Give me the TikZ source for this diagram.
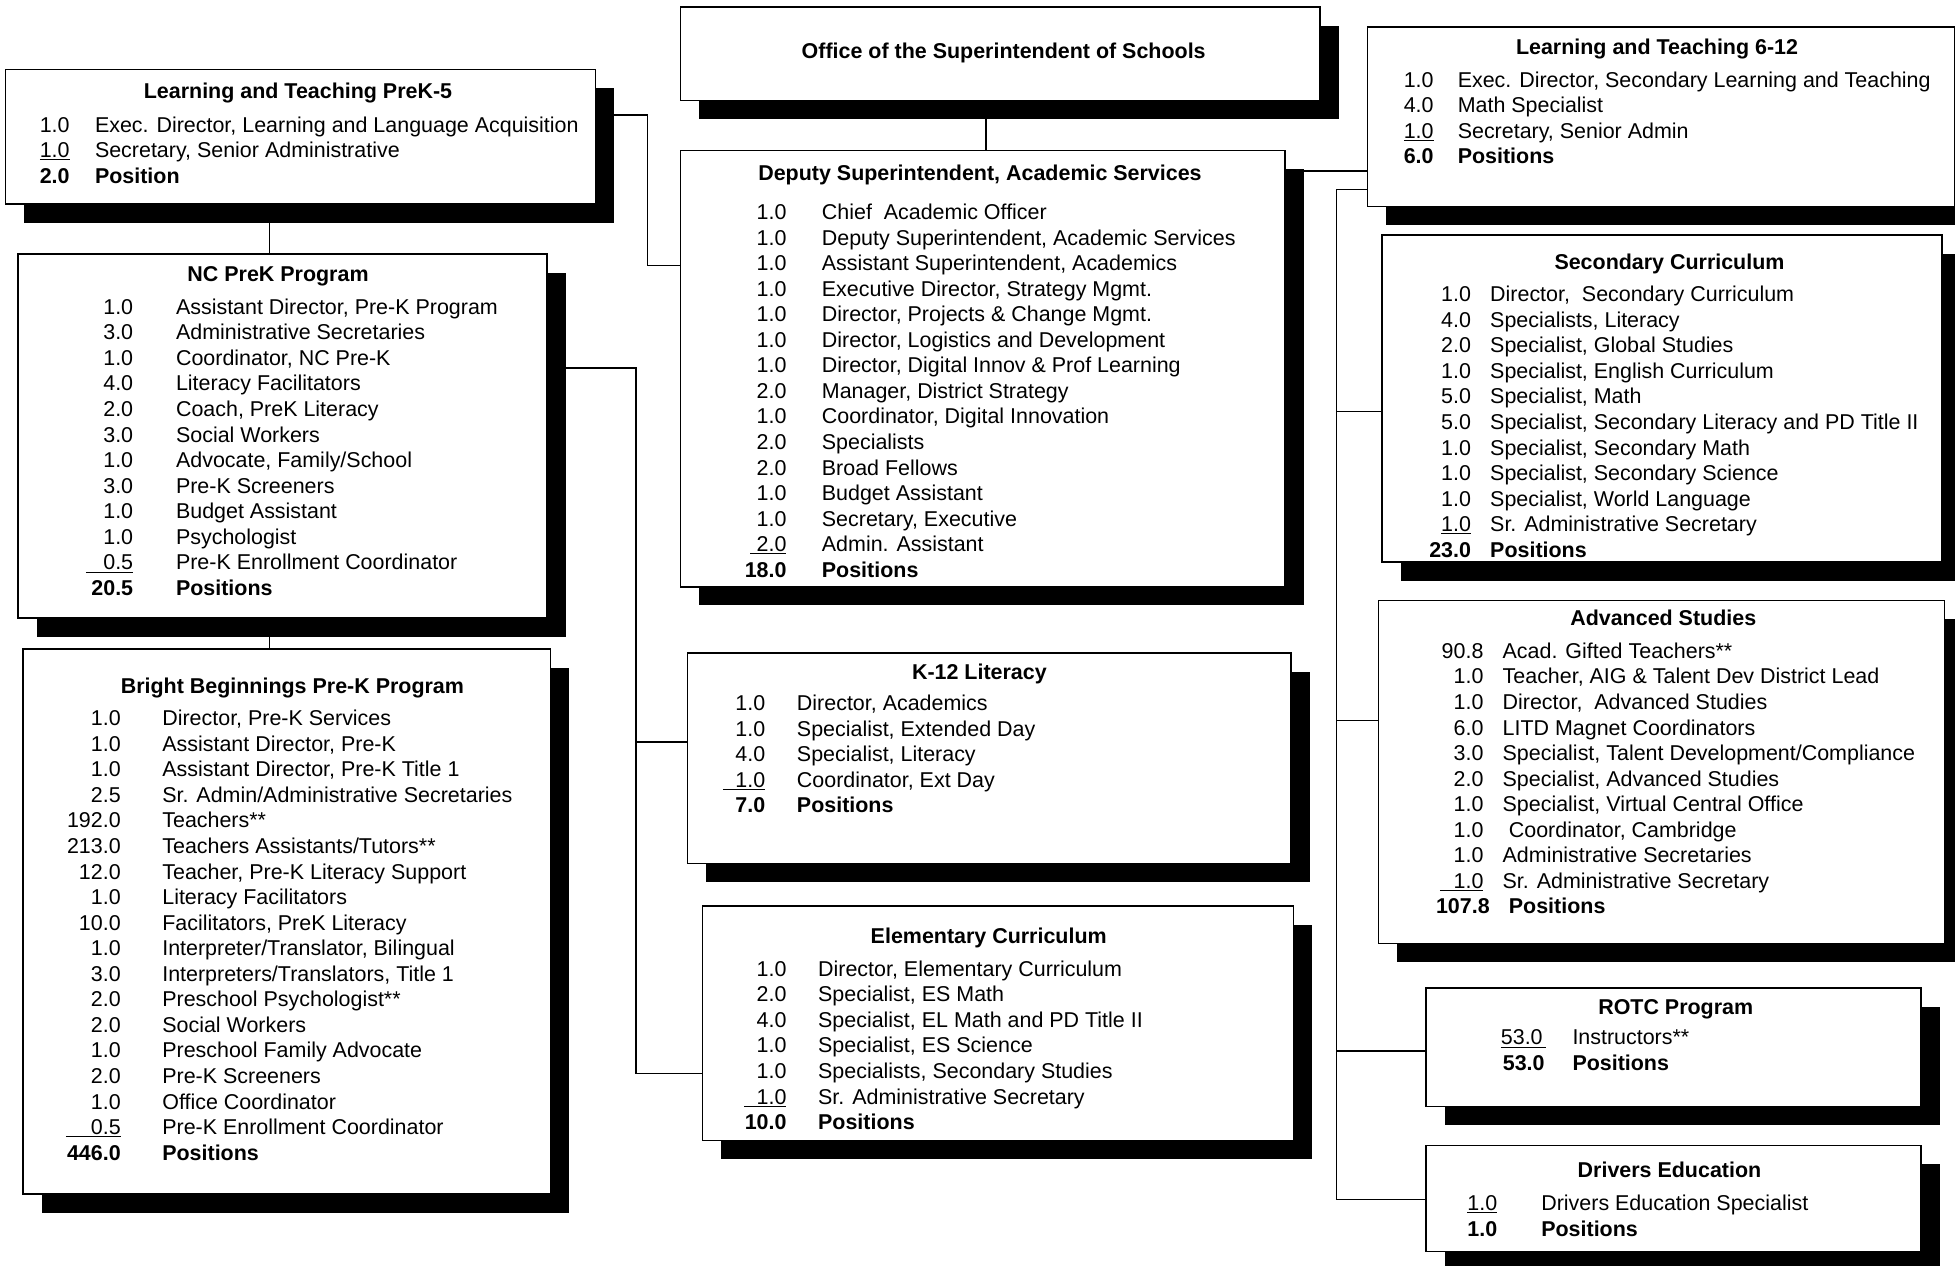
\documentclass[tikz,border=0pt]{standalone}
\usepackage{fontspec}
\setmainfont{Liberation Sans}
\usetikzlibrary{shadows}
\pgfdeclarelayer{bg}
\pgfsetlayers{bg,main}
\newcommand{\ulnum}[2]{\underline{\makebox[#1pt][r]{#2}}}
\newcommand{\ulnuml}[2]{\underline{\makebox[#1pt][l]{#2}}}
% name, number right edge, text x, first line y, list
\newcommand{\orgitems}[5]{%
  \foreach \nm/\tx [count=\i, evaluate=\i as \yy using #4+6+(\i-1)*20.5] in {#5} {
    \node[itemnum] (#1n\i) at (#2,\yy) {\nm};
    \node[itemtxt] (#1t\i) at (#3,\yy) {\tx};
  }%
}
\tikzset{
  orgbox/.style={draw=black, line width=1.2pt, fill=white, rectangle, inner sep=0pt, anchor=north west,
    drop shadow={fill=black, opacity=1, shadow xshift=15pt, shadow yshift=-15pt}},
  itemnum/.style={anchor=base east, inner sep=0pt},
  itemtxt/.style={anchor=base west, inner sep=0pt},
  boxtitle/.style={anchor=base, inner sep=0pt, font=\fontsize{17.2pt}{20.5pt}\selectfont\bfseries},
  conn/.style={line width=1.3pt}
}
\begin{document}
\begin{tikzpicture}[x=1pt, y=-1pt, font=\fontsize{17.2pt}{20.5pt}\selectfont]
\useasboundingbox (0,0) rectangle (1568,1015);

% ---------- boxes ----------
\node[orgbox, minimum width=513pt, minimum height=75pt]  (off)   at (545,5)    {};
\node[orgbox, minimum width=485pt, minimum height=350pt] (dep)   at (545,120)  {};
\node[orgbox, minimum width=473pt, minimum height=108pt] (lt5)   at (4,55)     {};
\node[orgbox, minimum width=424pt, minimum height=292pt] (nc)    at (14,203)   {};
\node[orgbox, minimum width=423pt, minimum height=437pt] (bb)    at (18,520)   {};
\node[orgbox, minimum width=484pt, minimum height=169pt] (k12)   at (551,523)  {};
\node[orgbox, minimum width=474pt, minimum height=188pt] (elem)  at (563,726)  {};
\node[orgbox, minimum width=471pt, minimum height=144pt] (lt612) at (1096,21)  {};
\node[orgbox, minimum width=449pt, minimum height=262pt] (sec)   at (1108,188) {};
\node[orgbox, minimum width=454pt, minimum height=275pt] (adv)   at (1105,481) {};
\node[orgbox, minimum width=397pt, minimum height=95pt]  (rotc)  at (1143,792) {};
\node[orgbox, minimum width=397pt, minimum height=85pt]  (drv)   at (1143,918) {};

% ---------- titles ----------
\node[boxtitle] (offT)   at (805,47)   {Office of the Superintendent of Schools};
\node[boxtitle] (depT)   at (786,145)  {Deputy Superintendent, Academic Services};
\node[boxtitle] (lt5T)   at (239,79)   {Learning and Teaching PreK-5};
\node[boxtitle] (ncT)    at (223,226)  {NC PreK Program};
\node[boxtitle] (bbT)    at (234.5,556){Bright Beginnings Pre-K Program};
\node[boxtitle] (k12T)   at (785.5,545){K-12 Literacy};
\node[boxtitle] (elemT)  at (793,757)  {Elementary Curriculum};
\node[boxtitle] (lt612T) at (1329,44)  {Learning and Teaching 6-12};
\node[boxtitle] (secT)   at (1339,216) {Secondary Curriculum};
\node[boxtitle] (advT)   at (1334,502) {Advanced Studies};
\node[boxtitle] (rotcT)  at (1344,814) {ROTC Program};
\node[boxtitle] (drvT)   at (1339,944) {Drivers Education};

% ---------- contents ----------
\orgitems{lt5}{56}{76}{100}{1.0/{Exec. Director, Learning and Language Acquisition},
  {\underline{1.0}}/{Secretary, Senior Administrative},
  {\textbf{2.0}}/{\textbf{Position}}}

\orgitems{dep}{631}{659}{170}{1.0/{Chief\ \ Academic Officer},
  1.0/{Deputy Superintendent, Academic Services},
  1.0/{Assistant Superintendent, Academics},
  1.0/{Executive Director, Strategy Mgmt.},
  1.0/{Director, Projects \& Change Mgmt.},
  1.0/{Director, Logistics and Development},
  1.0/{Director, Digital Innov \& Prof Learning},
  2.0/{Manager, District Strategy},
  1.0/{Coordinator, Digital Innovation},
  2.0/{Specialists},
  2.0/{Broad Fellows},
  1.0/{Budget Assistant},
  1.0/{Secretary, Executive},
  {\ulnum{29}{2.0}}/{Admin. Assistant},
  {\textbf{18.0}}/{\textbf{Positions}}}

\orgitems{nc}{107}{141}{246}{1.0/{Assistant Director, Pre-K Program},
  3.0/{Administrative Secretaries},
  1.0/{Coordinator, NC Pre-K},
  4.0/{Literacy Facilitators},
  2.0/{Coach, PreK Literacy},
  3.0/{Social Workers},
  1.0/{Advocate, Family/School},
  3.0/{Pre-K Screeners},
  1.0/{Budget Assistant},
  1.0/{Psychologist},
  {\ulnum{38}{0.5}}/{Pre-K Enrollment Coordinator},
  {\textbf{20.5}}/{\textbf{Positions}}}

\orgitems{bb}{97}{130}{576}{1.0/{Director, Pre-K Services},
  1.0/{Assistant Director, Pre-K},
  1.0/{Assistant Director, Pre-K Title 1},
  2.5/{Sr. Admin/Administrative Secretaries},
  192.0/{Teachers**},
  213.0/{Teachers Assistants/Tutors**},
  12.0/{Teacher, Pre-K Literacy Support},
  1.0/{Literacy Facilitators},
  10.0/{Facilitators, PreK Literacy},
  1.0/{Interpreter/Translator, Bilingual},
  3.0/{Interpreters/Translators, Title 1},
  2.0/{Preschool Psychologist**},
  2.0/{Social Workers},
  1.0/{Preschool Family Advocate},
  2.0/{Pre-K Screeners},
  1.0/{Office Coordinator},
  {\ulnum{44}{0.5}}/{Pre-K Enrollment Coordinator},
  {\textbf{446.0}}/{\textbf{Positions}}}

\orgitems{k12}{614}{639}{564}{1.0/{Director, Academics},
  1.0/{Specialist, Extended Day},
  4.0/{Specialist, Literacy},
  {\ulnum{34}{1.0}}/{Coordinator, Ext Day},
  {\textbf{7.0}}/{\textbf{Positions}}}

\orgitems{elem}{631}{656}{777}{1.0/{Director, Elementary Curriculum},
  2.0/{Specialist, ES Math},
  4.0/{Specialist, EL Math and PD Title II},
  1.0/{Specialist, ES Science},
  1.0/{Specialists, Secondary Studies},
  {\ulnum{34}{1.0}}/{Sr. Administrative Secretary},
  {\textbf{10.0}}/{\textbf{Positions}}}

\orgitems{lt612}{1150}{1169}{64}{1.0/{Exec. Director, Secondary Learning and Teaching},
  4.0/{Math Specialist},
  {\underline{1.0}}/{Secretary, Senior Admin},
  {\textbf{6.0}}/{\textbf{Positions}}}

\orgitems{sec}{1180}{1195}{236}{1.0/{Director,\ \ Secondary Curriculum},
  4.0/{Specialists, Literacy},
  2.0/{Specialist, Global Studies},
  1.0/{Specialist, English Curriculum},
  5.0/{Specialist, Math},
  5.0/{Specialist, Secondary Literacy and PD Title II},
  1.0/{Specialist, Secondary Math},
  1.0/{Specialist, Secondary Science},
  1.0/{Specialist, World Language},
  {\underline{1.0}}/{Sr. Administrative Secretary},
  {\textbf{23.0}}/{\textbf{Positions}}}

\orgitems{adv}{1190}{1205}{522}{90.8/{Acad. Gifted Teachers**},
  1.0/{Teacher, AIG \& Talent Dev District Lead},
  1.0/{Director,\ \ Advanced Studies},
  6.0/{LITD Magnet Coordinators},
  3.0/{Specialist, Talent Development/Compliance},
  2.0/{Specialist, Advanced Studies},
  1.0/{Specialist, Virtual Central Office},
  1.0/{\hspace*{5pt}Coordinator, Cambridge},
  1.0/{Administrative Secretaries},
  {\ulnum{35}{1.0}}/{Sr. Administrative Secretary},
  {\textbf{107.8}\hspace*{-5pt}}/{\hspace*{5pt}\textbf{Positions}}}

\orgitems{rotc}{1240}{1261}{832}{{\ulnuml{36}{53.0}}/{Instructors**},
  {\textbf{53.0}\hspace*{1pt}}/{\textbf{Positions}}}

\orgitems{drv}{1201}{1236}{965}{{\underline{1.0}}/{Drivers Education Specialist},
  {\textbf{1.0}}/{\textbf{Positions}}}

% ---------- connectors ----------
\begin{pgfonlayer}{bg}
\draw[conn] ([xshift=246pt]off.south west) -- ([xshift=246pt]dep.north west);
\draw[conn] ([yshift=-37pt]lt5.north east) -- ++(41,0) |- ([yshift=-93pt]dep.north west);
\draw[conn] ([xshift=212pt]lt5.south west) -- ([xshift=202pt]nc.north west);
\draw[conn] ([xshift=202pt]nc.south west) -- ([xshift=198pt]bb.north west);
\draw[conn] ([yshift=-92pt]nc.north east) -- ++(71,0) |- ([yshift=-135pt]elem.north west);
\draw[conn] ([yshift=-72pt]k12.north west) -- ++(-42,0);
\draw[conn] ([yshift=-17pt]dep.north east) -- ([yshift=-116pt]lt612.north west);
\draw[conn] ([yshift=-131pt]lt612.north west) -- ++(-24,0) |- ([yshift=-44pt]drv.north west);
\draw[conn] ([yshift=-142pt]sec.north west) -- ++(-36,0);
\draw[conn] ([yshift=-97pt]adv.north west) -- ++(-33,0);
\draw[conn] ([yshift=-51pt]rotc.north west) -- ++(-71,0);
\end{pgfonlayer}
\end{tikzpicture}
\end{document}
